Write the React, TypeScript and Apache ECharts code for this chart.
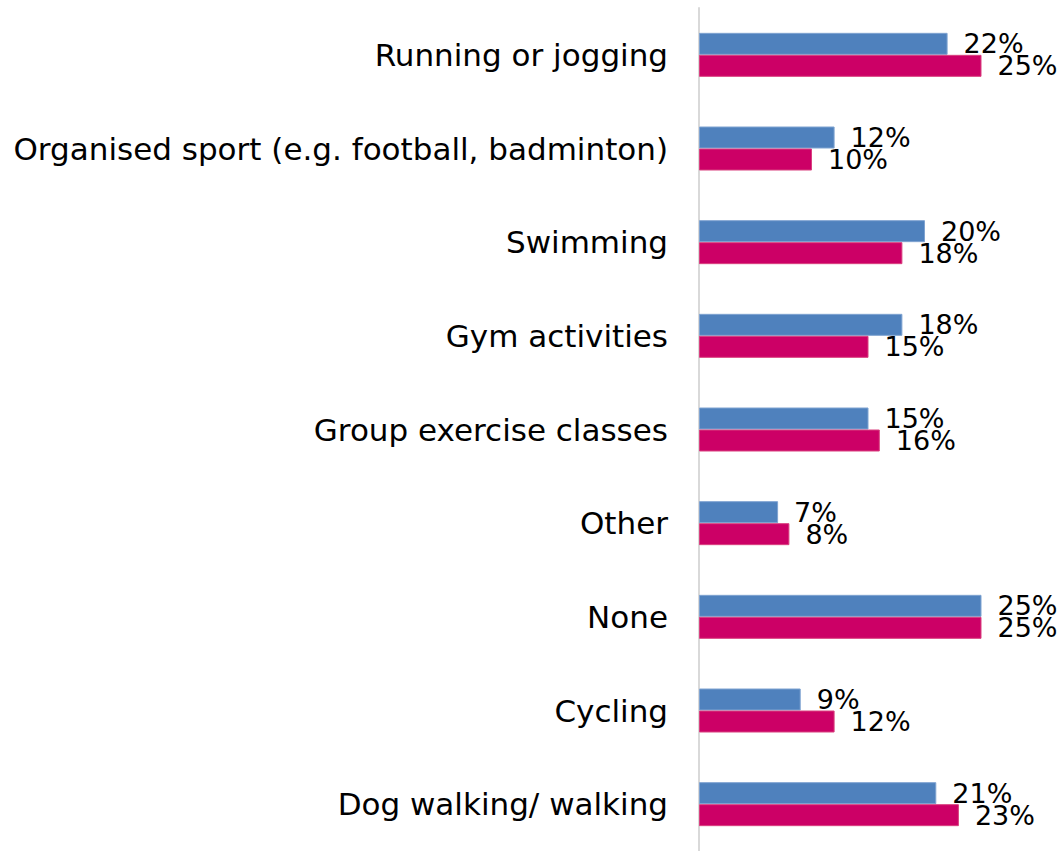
import React, { useEffect, useRef } from "react";
import * as echarts from "echarts";

const categories = [
  "Running or jogging",
  "Organised sport (e.g. football, badminton)",
  "Swimming",
  "Gym activities",
  "Group exercise classes",
  "Other",
  "None",
  "Cycling",
  "Dog walking/ walking",
];
const seriesBlue = [22, 12, 20, 18, 15, 7, 25, 9, 21];
const seriesMagenta = [25, 10, 18, 15, 16, 8, 25, 12, 23];

export default function App() {
  const ref = useRef<HTMLDivElement>(null);
  useEffect(() => {
    if (!ref.current) return;
    const chart = echarts.init(ref.current, undefined, { renderer: "svg" });
    const labelCfg = {
      show: true,
      position: "right" as const,
      distance: 16,
      formatter: "{c}%",
      color: "#000",
      fontSize: 27,
      fontFamily: "DejaVu Sans",
    };
    chart.setOption({
      animation: false,
      grid: { left: 699, right: 22, top: 8, height: 846, containLabel: false },
      xAxis: {
        type: "value",
        min: 0,
        max: 30,
        show: false,
      },
      yAxis: {
        type: "category",
        data: categories,
        inverse: true,
        axisLine: { show: true, lineStyle: { color: "#d9d9d9", width: 2 } },
        axisTick: { show: false },
        splitLine: { show: false },
        axisLabel: {
          margin: 31,
          color: "#000",
          fontSize: 31,
          fontFamily: "DejaVu Sans",
        },
      },
      series: [
        {
          name: "Blue",
          type: "bar",
          data: seriesBlue,
          barWidth: 22,
          barGap: "0%",
          itemStyle: { color: "#4f81bd", borderColor: "#7fa3d1", borderWidth: 1 },
          label: labelCfg,
        },
        {
          name: "Magenta",
          type: "bar",
          data: seriesMagenta,
          barWidth: 22,
          barGap: "0%",
          itemStyle: { color: "#cc0066", borderColor: "#d9407f", borderWidth: 1 },
          label: labelCfg,
        },
      ],
    });
    return () => chart.dispose();
  }, []);
  return (
    <div
      ref={ref}
      style={{ position: "fixed", left: 0, top: 0, width: 1060, height: 851, background: "#fff" }}
    />
  );
}
